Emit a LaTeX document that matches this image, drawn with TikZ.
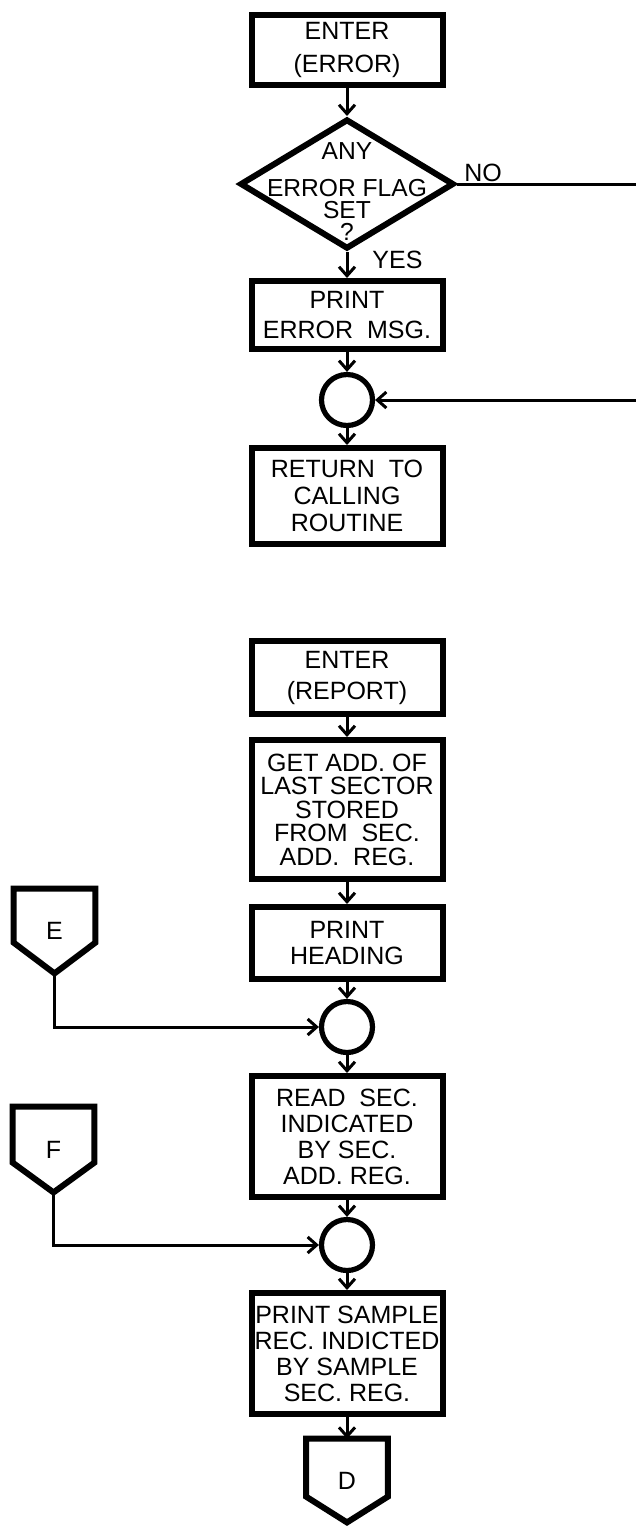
\documentclass[tikz,border=0pt]{standalone}
\usepackage{fontspec}
\setmainfont{Liberation Sans}
\usetikzlibrary{arrows.meta,shapes.geometric,calc}
\begin{document}
\begin{tikzpicture}[x=0.5pt,y=-0.5pt,
  proc/.style={draw, line width=3pt, rectangle, minimum width=95.5pt, inner xsep=0pt, inner ysep=0pt, align=center},
  junc/.style={draw, circle, line width=2.6pt, minimum size=25.5pt, inner sep=0pt},
  conn/.style={line width=1.5pt, -{Straight Barb[length=4.5pt,width=8pt]}},
  plainline/.style={line width=1.5pt},
  offp/.style={minimum width=40.5pt, inner sep=0pt, font=\fontsize{12.5}{13}\selectfont},
  offpath/.style={draw, line width=3pt, line join=miter},
  lbl/.style={inner sep=0pt, font=\fontsize{12.5}{13}\selectfont},
  dlbl/.style={inner sep=0pt, font=\fontsize{12.3}{12}\selectfont, anchor=base}
]
\useasboundingbox (0,0) rectangle (636,1528);

% upper chart
\node[proc, minimum height=35pt, font=\fontsize{12.5}{16.5}\selectfont] (b1) at (347,50) {ENTER\\(ERROR)};
\node[diamond, draw, line width=3pt, minimum width=107pt, minimum height=65pt, inner sep=0pt] (dia) at (347,184) {};
\node[dlbl] (d1) at (347,159) {ANY};
\node[dlbl] (d2) at (347,196) {ERROR FLAG};
\node[dlbl] (d3) at (347,218) {SET};
\node[dlbl] (d4) at (347,240) {?};
\node[proc, minimum height=34pt, font=\fontsize{12.5}{15}\selectfont] (b2) at (347,315) {PRINT\\ERROR\ \ MSG.};
\node[junc] (c1) at (347,400) {};
\node[proc, minimum height=48pt, font=\fontsize{12.5}{13.5}\selectfont] (b3) at (347,496) {RETURN\ \ TO\\CALLING\\ROUTINE};
\coordinate (noend) at (636,184);
\coordinate (retin) at (636,400);
\node[lbl, anchor=base west] (no) at (464,181) {NO};
\node[lbl, anchor=base west] (yes) at (372,268) {YES};

\draw[conn] (b1.south) -- (dia.north);
\draw[conn] (dia.south) -- (b2.north);
\draw[plainline] (dia.east) -- (noend);
\draw[conn] (b2.south) -- (c1.north);
\draw[conn] (retin) -- (c1.east);
\draw[conn] (c1.south) -- (b3.north);

% lower chart
\node[proc, minimum height=36.5pt, font=\fontsize{12.5}{15.5}\selectfont] (b4) at (347,677.5) {ENTER\\(REPORT)};
\node[proc, minimum height=69.5pt, font=\fontsize{12.5}{11.75}\selectfont] (b5) at (347,809.5) {GET ADD. OF\\LAST SECTOR\\STORED\\FROM\ \ SEC.\\ADD.\ \ REG.};
\node[proc, minimum height=36pt, font=\fontsize{12.5}{13}\selectfont] (b6) at (347,943) {PRINT\\HEADING};
\node[junc] (c2) at (347,1027) {};
\node[proc, minimum height=60.5pt, font=\fontsize{12.5}{13}\selectfont] (b7) at (347,1136.5) {READ\ \ SEC.\\INDICATED\\BY SEC.\\ADD. REG.};
\node[junc] (c3) at (347,1245) {};
\node[proc, minimum height=60.5pt, font=\fontsize{12.5}{13}\selectfont] (b8) at (347,1353.5) {PRINT SAMPLE\\REC. INDICTED\\BY SAMPLE\\SEC. REG.};

\node[offp, minimum height=42pt] (E) at (54.5,931) {E};
\draw[offpath] (E.north west) -- (E.north east) -- ($(E.north east)+(0,54)$) -- (E.south) -- ($(E.north west)+(0,54)$) -- cycle;
\node[offp, minimum height=42.5pt] (F) at (53.5,1149.5) {F};
\draw[offpath] (F.north west) -- (F.north east) -- ($(F.north east)+(0,56)$) -- (F.south) -- ($(F.north west)+(0,56)$) -- cycle;
\node[offp, minimum height=41.5pt] (D) at (347,1480.5) {D};
\draw[offpath] (D.north west) -- (D.north east) -- ($(D.north east)+(0,58)$) -- (D.south) -- ($(D.north west)+(0,58)$) -- cycle;

\draw[conn] (b4.south) -- (b5.north);
\draw[conn] (b5.south) -- (b6.north);
\draw[conn] (b6.south) -- (c2.north);
\draw[conn] (E.south) |- (c2.west);
\draw[conn] (c2.south) -- (b7.north);
\draw[conn] (b7.south) -- (c3.north);
\draw[conn] (F.south) |- (c3.west);
\draw[conn] (c3.south) -- (b8.north);
\draw[conn] (b8.south) -- (D.north);
\end{tikzpicture}
\end{document}
